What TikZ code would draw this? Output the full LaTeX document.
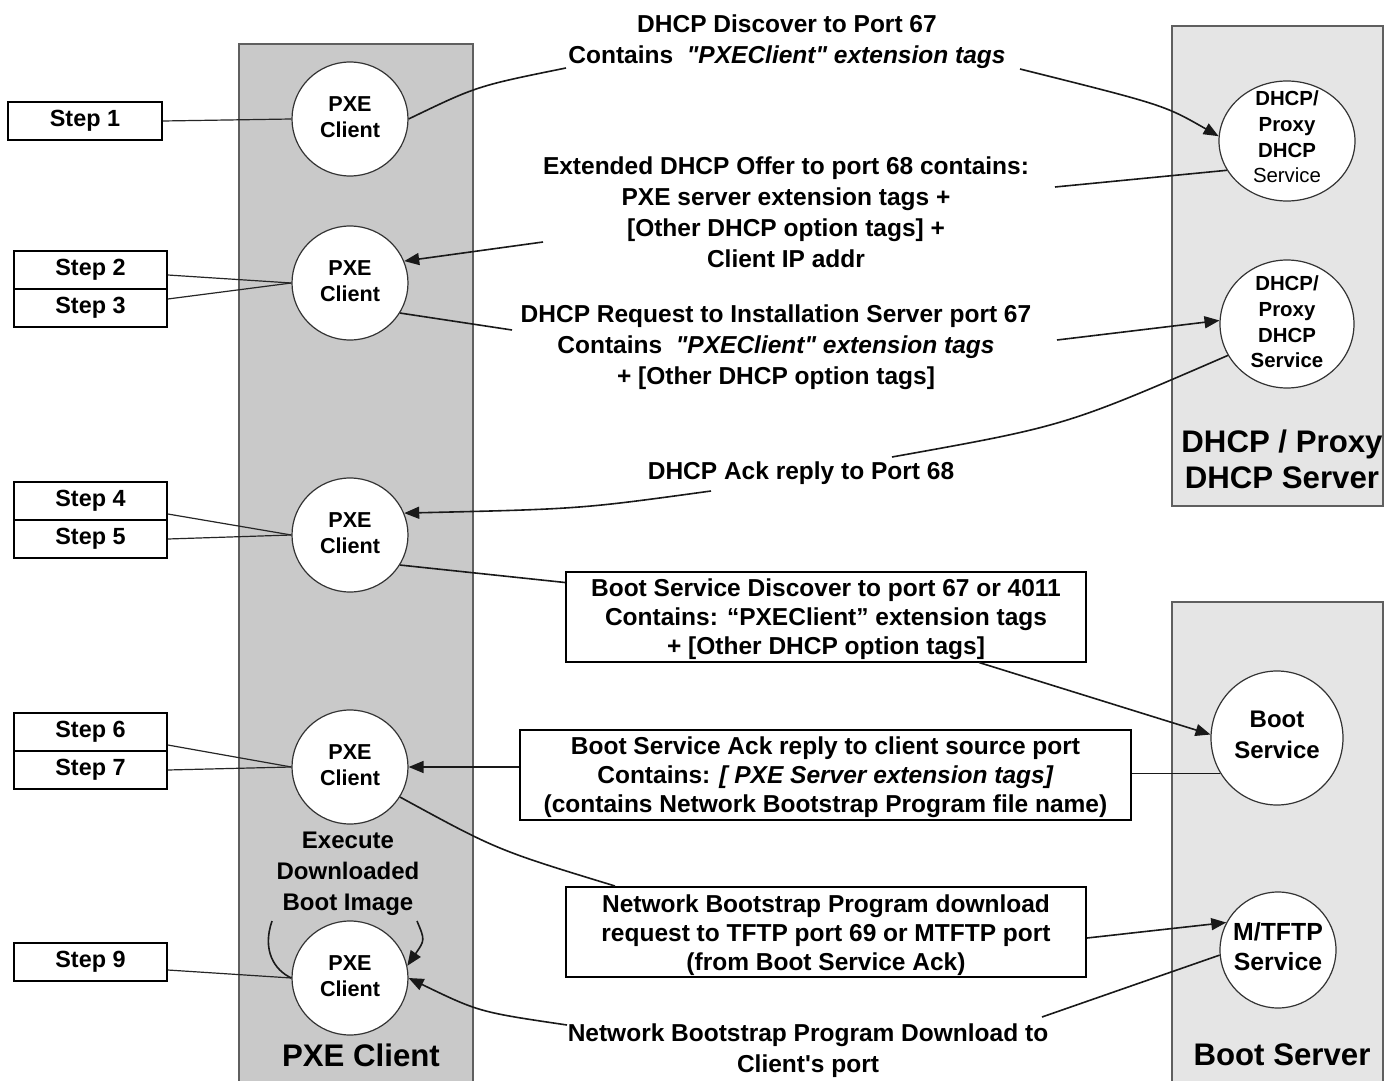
\documentclass[tikz,border=0pt]{standalone}
\usepackage{fontspec}
\setmainfont{Liberation Sans}[Ligatures=TeXOff]
\usetikzlibrary{shapes.geometric,arrows.meta,calc}
\definecolor{colDark}{RGB}{201,201,201}
\definecolor{colLight}{RGB}{229,229,229}
\definecolor{colEdge}{RGB}{95,95,95}
\begin{document}
\begin{tikzpicture}[x=0.5pt,y=-0.5pt,
  conn/.style={line width=0.8pt, draw=black!90},
  sl/.style={line width=0.6pt, draw=black!85},
  arr/.style={conn, -{Triangle[length=7.5pt,width=6pt]}},
  column/.style={draw=colEdge, line width=0.7pt},
  stepbox/.style={draw, line width=0.8pt, fill=white, minimum width=76.5pt, minimum height=19pt, inner sep=0pt, font=\bfseries\fontsize{11.7}{14}\selectfont},
  lbl/.style={align=center, inner sep=0pt, font=\bfseries\fontsize{12.25}{15.5}\selectfont},
  msgbox/.style={draw, line width=1pt, fill=white, inner sep=0pt, minimum width=260pt, minimum height=45pt},
  msgtxt/.style={align=center, inner sep=0pt, font=\bfseries\fontsize{12.25}{14.5}\selectfont},
  circ/.style={ellipse, draw=black!80, line width=0.6pt, fill=white, inner sep=0pt},
  pxec/.style={circ, minimum width=58pt, minimum height=57pt},
  ctxt/.style={align=center, inner sep=0pt, font=\bfseries\fontsize{10.8}{13}\selectfont},
  dtxt/.style={align=center, inner sep=0pt, font=\bfseries\fontsize{10.2}{12.8}\selectfont},
  btxt/.style={align=center, inner sep=0pt, font=\bfseries\fontsize{12}{15.5}\selectfont},
  ttl/.style={align=center, inner sep=0pt, font=\bfseries\fontsize{15.6}{18}\selectfont}
]
\fill[white] (0,0) rectangle (1398,1081);
\useasboundingbox (0,0) rectangle (1398,1081);

% columns
\draw[column, fill=colDark] (239,44) rectangle (473,1095);
\draw[column, fill=colLight] (1172,26) rectangle (1383,506);
\draw[column, fill=colLight] (1172,602) rectangle (1383,1095);

% step boxes
\node[stepbox, minimum width=77pt] (s1) at (85,121) {Step 1};
\node[stepbox] (s2) at (90.5,270) {Step 2};
\node[stepbox] (s3) at (90.5,308) {Step 3};
\node[stepbox] (s4) at (90.5,501) {Step 4};
\node[stepbox] (s5) at (90.5,539) {Step 5};
\node[stepbox] (s6) at (90.5,732) {Step 6};
\node[stepbox] (s7) at (90.5,770) {Step 7};
\node[stepbox] (s9) at (90.5,962) {Step 9};

% PXE client circles
\node[pxec] (p1) at (350,119) {};
\node[ctxt] at ([yshift=1pt]p1.center) {PXE\\Client};
\node[pxec] (p2) at (350,283) {};
\node[ctxt] at ([yshift=1pt]p2.center) {PXE\\Client};
\node[pxec] (p3) at (350,535) {};
\node[ctxt] at ([yshift=1pt]p3.center) {PXE\\Client};
\node[pxec] (p4) at (350,767) {};
\node[ctxt] at ([yshift=1pt]p4.center) {PXE\\Client};
\node[pxec] (p5) at (350,978) {};
\node[ctxt] at ([yshift=1pt]p5.center) {PXE\\Client};

% server circles
\node[circ, minimum width=68pt, minimum height=60pt] (dA) at (1287,141) {};
\node[dtxt] at ([yshift=2pt]dA.center) {DHCP/\\Proxy\\DHCP\\\mdseries Service};
\node[circ, minimum width=67pt, minimum height=64pt] (dB) at (1287,324) {};
\node[dtxt] at ([yshift=1pt]dB.center) {DHCP/\\Proxy\\DHCP\\Service};
\node[circ, minimum width=66pt, minimum height=67pt] (boot) at (1277,738) {};
\node[btxt] at ([yshift=1.5pt]boot.center) {Boot\\Service};
\node[circ, minimum width=58pt, minimum height=58pt] (mt) at (1278,950) {};
\node[btxt, font=\bfseries\fontsize{12.4}{15}\selectfont] at ([yshift=1.5pt]mt.center) {M/TFTP\\Service};

% labels
\node[lbl] (t1) at (787,41.5) {DHCP Discover to Port 67\\Contains~~\textit{"PXEClient" extension tags}};
\node[lbl] (t2) at (786,212) {Extended DHCP Offer to port 68 contains:\\PXE server extension tags +\\{}[Other DHCP option tags] +\\Client IP addr};
\node[lbl] (t3) at (776,347) {DHCP Request to Installation Server port 67\\Contains~~\textit{"PXEClient" extension tags}\\+ [Other DHCP option tags]};
\node[lbl] (t4) at (801,473) {DHCP Ack reply to Port 68};
\node[msgbox] (b5) at (826,616.5) {};
\node[msgtxt] at ([yshift=-1.5pt]b5.center) {Boot Service Discover to port 67 or 4011\\Contains: “PXEClient” extension tags\\+ [Other DHCP option tags]};
\node[msgbox, minimum width=305.5pt] (b6) at (825.5,775) {};
\node[msgtxt] at ([yshift=-1pt]b6.center) {Boot Service Ack reply to client source port\\Contains: \textit{[ PXE Server extension tags]}\\(contains Network Bootstrap Program file name)};
\node[msgbox] (b7) at (826,932) {};
\node[msgtxt] at ([yshift=-1.5pt]b7.center) {Network Bootstrap Program download\\request to TFTP port 69 or MTFTP port\\(from Boot Service Ack)};
\node[lbl] (t8) at (808,1051) {Network Bootstrap Program Download to\\Client's port};
\node[lbl, font=\bfseries\fontsize{12}{15.5}\selectfont] (ex) at (348,874) {Execute\\Downloaded\\Boot Image};

\node[ttl] (tt1) at (361,1055) {PXE Client};
\node[ttl] (tt2) at (1282,459) {DHCP / Proxy\\DHCP Server};
\node[ttl] (tt3) at (1282,1055) {Boot Server};

% step connectors
\draw[sl] (s1.east) -- (p1.west);
\draw[sl] ([yshift=-2.5pt]s2.east) -- (p2.west);
\draw[sl] ([yshift=4.5pt]s3.east) -- (p2.west);
\draw[sl] ([yshift=-6.5pt]s4.east) -- (p3.west);
\draw[sl] (s5.east) -- (p3.west);
\draw[sl] ([yshift=-6.5pt]s6.east) -- (p4.west);
\draw[sl] (s7.east) -- (p4.west);
\draw[sl] ([yshift=-4pt]s9.east) -- (p5.west);

% free ends of message connectors
\coordinate (c1a) at (566,68);
\coordinate (c1b) at (1020,69);
\coordinate (c2a) at (1055,187);
\coordinate (c2b) at (543,242);
\coordinate (c3a) at (512,330);
\coordinate (c3b) at (1057,340);
\coordinate (c4a) at (892,457);
\coordinate (c4b) at (711,491);
\coordinate (c8a) at (1042,1017);
\coordinate (c8b) at (567,1025);
\coordinate (c9a) at (272,921);
\coordinate (c9b) at (417,921);

% message connectors
\draw[conn] (p1.east) .. controls (477,86) .. (c1a);
\draw[arr] (c1b) .. controls (1164,105) .. (dA.176);
\draw[conn] (dA.206) -- (c2a);
\draw[arr] (c2b) -- (p2.22);
\draw[conn] (p2.329) -- (c3a);
\draw[arr] (c3b) -- (dB.177);
\draw[conn] (dB.208) .. controls (1065,426) .. (c4a);
\draw[arr] (c4b) .. controls (580,509) .. (p3.22);
\draw[conn] (p3.329) -- ([yshift=17pt]b5.west);
\draw[arr] ([xshift=-54pt]b5.south east) -- (boot.177);
\draw[conn] (boot.212) -- (boot.212 -| b6.east);
\draw[arr] (b6.west |- p4.east) -- (p4.east);
\draw[conn] (p4.329) .. controls (497,850) .. ([xshift=25pt]b7.north west);
\draw[arr] ([yshift=-3pt]b7.east) -- (mt.152);
\draw[conn] (mt.185) .. controls (1130,986) .. (c8a);
\draw[arr] (c8b) .. controls (479,1012) .. (p5.east);
\draw[conn] (c9a) .. controls (262,950) and (274,970) .. (p5.west);
\draw[arr] (c9b) .. controls (425,940) .. (p5.12);
\end{tikzpicture}
\end{document}
